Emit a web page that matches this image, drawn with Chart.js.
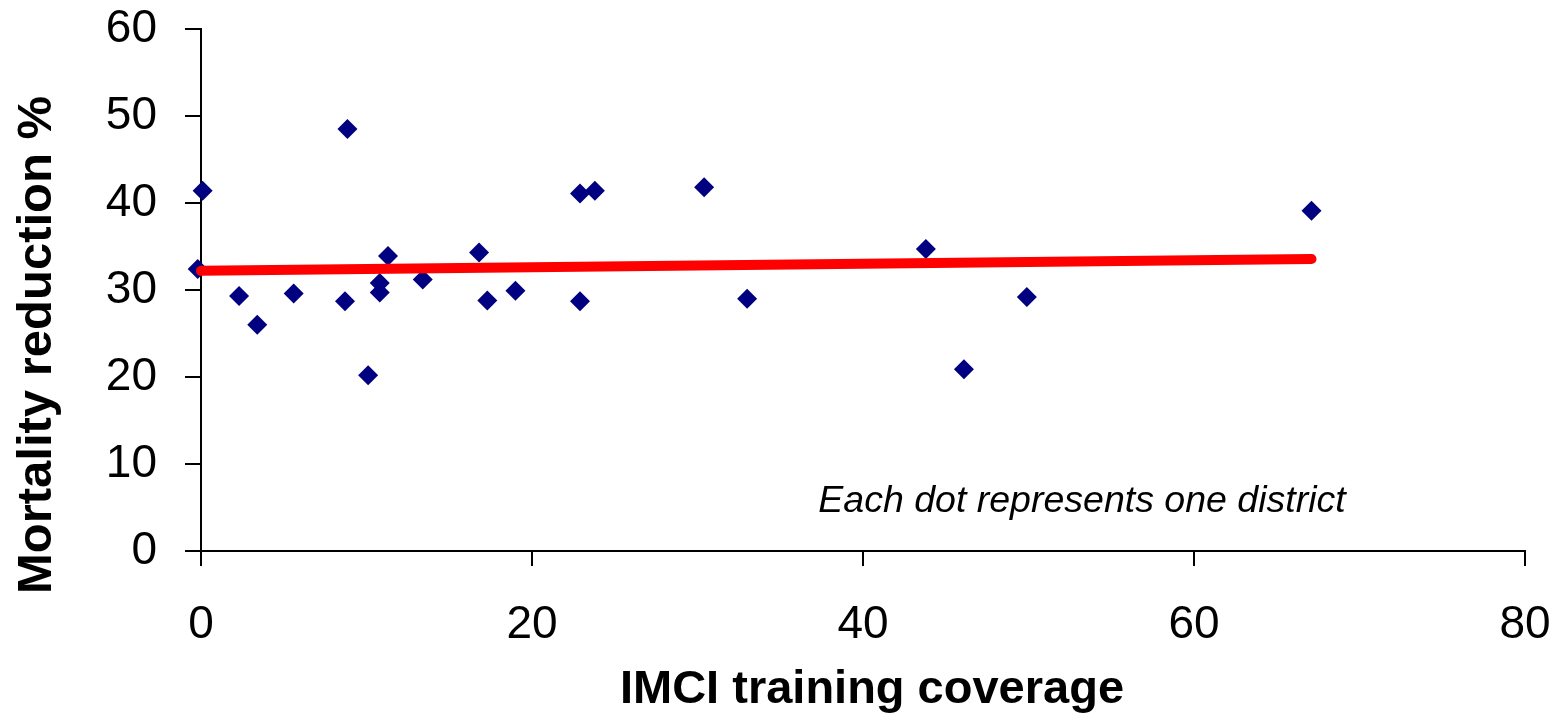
<!DOCTYPE html>
<html>
<head>
<meta charset="utf-8">
<script src="https://cdn.jsdelivr.net/npm/chart.js@4.4.1/dist/chart.umd.min.js"></script>
<style>
  html, body { margin: 0; padding: 0; background: #fff; }
  #wrap { width: 1561px; height: 714px; }
</style>
</head>
<body>
<div id="wrap"><canvas id="chart"></canvas></div>
<script>
(function () {
    "use strict";

    // District data: IMCI training coverage (%) vs mortality reduction (%)
    const coverage = [-0.2, 0.1, 2.3, 3.4, 5.6, 8.7, 8.85, 10.1, 10.8, 10.8, 11.3, 13.4,
        16.8, 17.3, 19.0, 22.9, 22.9, 23.8, 30.4, 33.0, 43.8, 46.1, 49.9, 67.1];
    const reduction = [32.4, 41.4, 29.3, 26.0, 29.6, 28.7, 48.5, 20.2, 30.8, 29.7, 33.9, 31.2,
        34.3, 28.8, 29.9, 28.7, 41.1, 41.4, 41.8, 29.0, 34.7, 20.9, 29.2, 39.1];

    // Linear trend line end points
    const trendX = [0, 67.1];
    const trendY = [32.2, 33.55];

    const xTicks = [0, 20, 40, 60, 80];
    const yTicks = [0, 10, 20, 30, 40, 50, 60];

    const xTitle = "IMCI training coverage";
    const yTitle = "Mortality reduction %";
    const note = "Each dot represents one district";

    const FONT = "'Liberation Sans', Arial, Helvetica, sans-serif";

    const points = coverage.map((x, i) => ({ x: x, y: reduction[i] }));
    const trend = trendX.map((x, i) => ({ x: x, y: trendY[i] }));

    // Titles and note drawn by hand
    const labelsPlugin = {
        id: "labels",
        afterDraw(chart) {
            const ctx = chart.ctx;
            const xs = chart.scales.x;
            const ys = chart.scales.y;
            ctx.save();
            ctx.fillStyle = "#000";
            ctx.textAlign = "center";
            ctx.textBaseline = "alphabetic";

            ctx.font = "bold 47px " + FONT;
            ctx.fillText(xTitle, 872, 703);

            ctx.font = "bold 49px " + FONT;
            ctx.translate(51, 345);
            ctx.rotate(-Math.PI / 2);
            ctx.fillText(yTitle, 0, 0);
            ctx.restore();

            ctx.save();
            ctx.fillStyle = "#000";
            ctx.font = "italic 37.5px " + FONT;
            ctx.textAlign = "left";
            ctx.textBaseline = "alphabetic";
            ctx.fillText(note, xs.getPixelForValue(37.3), ys.getPixelForValue(4.5));
            ctx.restore();
        },
    };

    function noOverhang(scale) {
        scale.paddingTop = 0;
        scale.paddingBottom = 0;
        scale.paddingLeft = 0;
        scale.paddingRight = 0;
    }

    const ctx = document.getElementById("chart").getContext("2d");
    new Chart(ctx, {
        type: "scatter",
        data: {
            datasets: [
                {
                    type: "line",
                    data: trend,
                    borderColor: "#ff0000",
                    borderWidth: 10,
                    borderCapStyle: "round",
                    pointRadius: 0,
                    fill: false,
                    order: 0,
                    clip: false,
                },
                {
                    data: points,
                    pointStyle: "rectRot",
                    pointRadius: 10,
                    pointHoverRadius: 10,
                    backgroundColor: "#000080",
                    borderColor: "#000080",
                    borderWidth: 0,
                    order: 1,
                    clip: false,
                },
            ],
        },
        options: {
            responsive: true,
            maintainAspectRatio: false,
            animation: false,
            events: [],
            layout: {
                padding: { left: 0, top: 29, right: 36, bottom: 0 },
            },
            plugins: {
                legend: { display: false },
                tooltip: { enabled: false },
            },
            scales: {
                x: {
                    type: "linear",
                    min: 0,
                    max: 80,
                    afterFit(scale) { scale.height = 163; noOverhang(scale); },
                    afterBuildTicks(scale) { scale.ticks = xTicks.map(v => ({ value: v })); },
                    border: { display: true, color: "#000", width: 2 },
                    grid: { drawOnChartArea: false, color: "#000", lineWidth: 2, tickLength: 15 },
                    ticks: {
                        color: "#000",
                        font: { family: FONT, size: 46 },
                        padding: 32,
                        maxRotation: 0,
                    },
                },
                y: {
                    type: "linear",
                    min: 0,
                    max: 60,
                    afterFit(scale) { scale.width = 201; noOverhang(scale); },
                    afterBuildTicks(scale) { scale.ticks = yTicks.map(v => ({ value: v })); },
                    border: { display: true, color: "#000", width: 2 },
                    grid: { drawOnChartArea: false, color: "#000", lineWidth: 2, tickLength: 16 },
                    ticks: {
                        color: "#000",
                        font: { family: FONT, size: 46 },
                        padding: 28,
                    },
                },
            },
        },
        plugins: [labelsPlugin],
    });
})();
</script>
</body>
</html>
